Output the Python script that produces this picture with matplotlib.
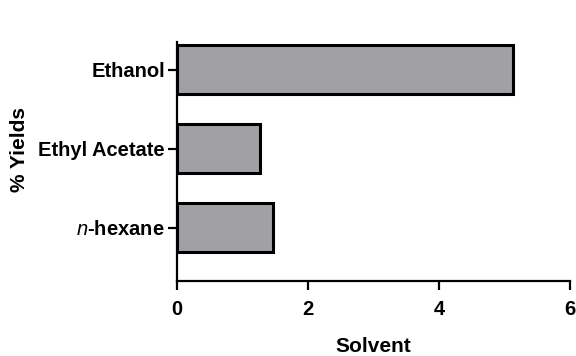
import matplotlib
matplotlib.use("Agg")
import matplotlib.pyplot as plt

plt.rcParams['font.family'] = ['Liberation Sans', 'DejaVu Sans']
plt.rcParams['mathtext.fontset'] = 'custom'
plt.rcParams['mathtext.it'] = 'Liberation Sans:italic'
plt.rcParams['mathtext.rm'] = 'Liberation Sans:bold'

categories = ['$\\mathit{n}$-hexane', 'Ethyl Acetate', 'Ethanol']
values = [1.47, 1.27, 5.13]
xticks = [0, 2, 4, 6]

fig = plt.figure(figsize=(5.76, 3.56), dpi=100)
ax = fig.add_axes([0.307, 0.211, 0.683, 0.671])
ax.barh(range(len(categories)), values, height=0.62, color='#A0A0A5',
        edgecolor='black', linewidth=2.2)
ax.set_xlim(0, 6)
ax.set_ylim(-0.67, 2.35)
ax.set_xticks(xticks)
ax.set_xticklabels([str(t) for t in xticks], fontsize=14.5, fontweight='bold')
ax.set_yticks(range(len(categories)))
ax.set_yticklabels(categories, fontsize=14.5, fontweight='bold')
for s in ['top', 'right']:
    ax.spines[s].set_visible(False)
for s in ['left', 'bottom']:
    ax.spines[s].set_linewidth(1.6)
ax.tick_params(width=1.6, length=6.5, pad=2)
ax.tick_params(axis='x', pad=7)
ax.set_xlabel('Solvent', fontsize=15, fontweight='bold', labelpad=13)
ax.set_ylabel('% Yields', fontsize=15, fontweight='bold')
ax.yaxis.set_label_coords(-0.377, 0.548)
fig.savefig('out.png', dpi=100)
